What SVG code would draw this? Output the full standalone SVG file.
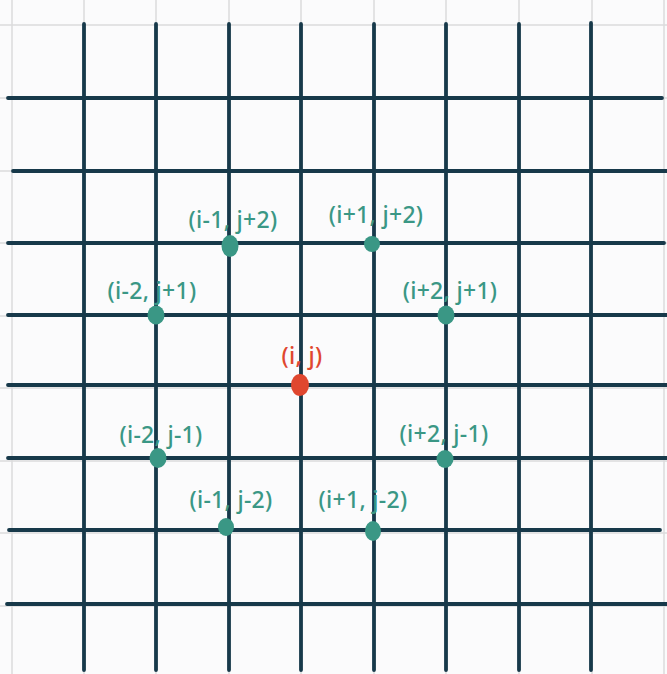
<svg xmlns="http://www.w3.org/2000/svg" width="667" height="674" viewBox="0 0 667 674">
<style>
.bg{stroke:#dcdcdc;stroke-width:1.5;fill:none}
.g{stroke:#17394a;stroke-width:3.8;stroke-linecap:round;fill:none}
.lbl{font-family:"Noto Sans","Liberation Sans",sans-serif;font-size:23px;fill:#3a9785;text-anchor:middle;font-weight:500;letter-spacing:0.3px}
.dot{fill:#3a9785}
.red{fill:#e0472f}
</style>
<rect width="667" height="674" fill="#fbfbfc"/>
<g id="paper">
<path class="bg" d="M12 0V674M84 0V674M156 0V674M229 0V674M301 0V674M374 0V674M446 0V674M519 0V674M592 0V674M664 0V674"/>
<path class="bg" d="M0 25H667M0 98H667M0 171H667M0 243H667M0 316H667M0 388H667M0 461H667M0 533H667M0 606H667"/>
</g>
<g id="grid">
<path class="g" d="M84 24V670M156 24V670M229 24V670M301 24V670M374 24V670M446 24V670M519 24V670M591 23V670"/>
<path class="g" d="M8 98H662M13 171H667M8 243H664M8 315H667M8 385H667M8 458H667M9 530H660M7 604H667"/>
</g>
<g id="n-im1-jp2"><ellipse class="dot" cx="230" cy="246" rx="8.5" ry="11"/><text class="lbl" x="233" y="228">(i-1, j+2)</text></g>
<g id="n-ip1-jp2"><circle class="dot" cx="372" cy="244" r="8"/><text class="lbl" x="376" y="223">(i+1, j+2)</text></g>
<g id="n-im2-jp1"><ellipse class="dot" cx="156" cy="315" rx="8.5" ry="9.5"/><text class="lbl" x="152" y="299">(i-2, j+1)</text></g>
<g id="n-ip2-jp1"><ellipse class="dot" cx="446" cy="315" rx="8.5" ry="9.5"/><text class="lbl" x="450" y="299">(i+2, j+1)</text></g>
<g id="n-i-j"><ellipse class="red" cx="300" cy="385" rx="9" ry="11"/><text class="lbl" style="fill:#e0472f" x="302" y="364">(i, j)</text></g>
<g id="n-im2-jm1"><ellipse class="dot" cx="158" cy="458" rx="8.5" ry="10"/><text class="lbl" x="161" y="443">(i-2, j-1)</text></g>
<g id="n-ip2-jm1"><ellipse class="dot" cx="445" cy="459" rx="8.5" ry="9"/><text class="lbl" x="444" y="442">(i+2, j-1)</text></g>
<g id="n-im1-jm2"><ellipse class="dot" cx="226" cy="527" rx="8" ry="9"/><text class="lbl" x="231" y="508">(i-1, j-2)</text></g>
<g id="n-ip1-jm2"><ellipse class="dot" cx="373" cy="531" rx="8" ry="10"/><text class="lbl" x="363" y="508">(i+1, j-2)</text></g>
</svg>
